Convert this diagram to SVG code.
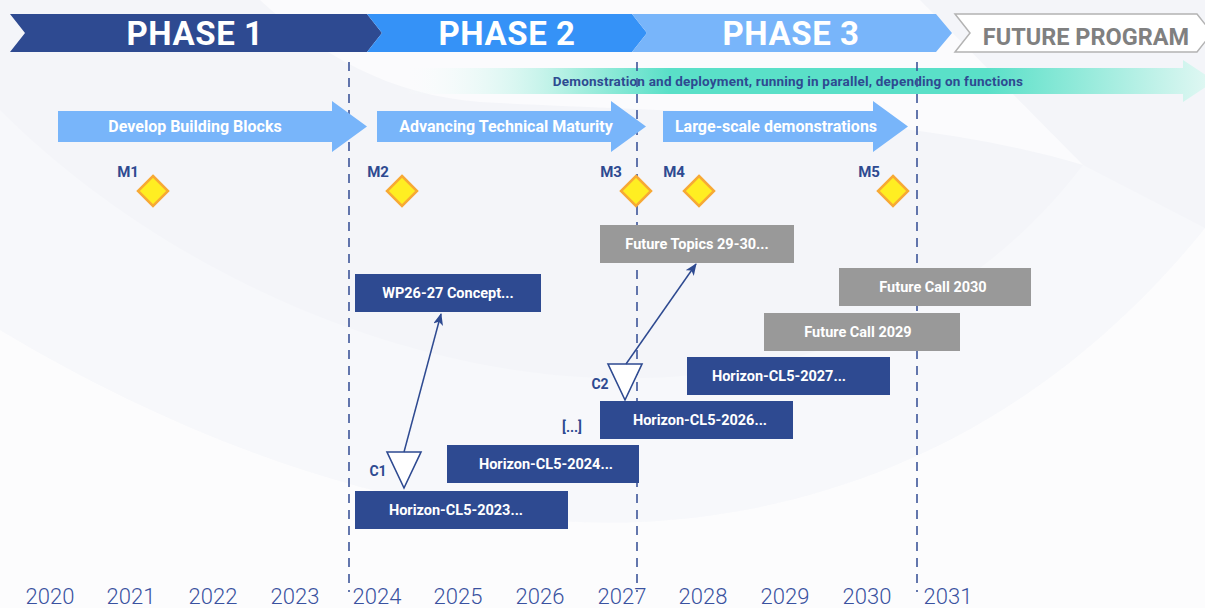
<svg xmlns="http://www.w3.org/2000/svg" width="1205" height="608" viewBox="0 0 1205 608">
<defs>
<style>
.t{font-family:Roboto,"Liberation Sans",Arial,sans-serif;font-weight:700;}
.phase{font-size:33px;fill:#fff;text-anchor:middle;letter-spacing:0.6px;}
.arrowlbl{font-size:16px;fill:#fff;text-anchor:middle;}
.ml{font-size:15px;fill:#2e4a91;text-anchor:middle;}
.box{fill:#2e4a91;}
.gbox{fill:#999999;}
.bl{font-size:14.5px;fill:#fff;text-anchor:middle;}
.yr{font-family:Roboto,"Liberation Sans",Arial,sans-serif;font-weight:300;font-size:22px;fill:#3a52a0;text-anchor:middle;}
.dash{stroke:#3d5599;stroke-width:1.6;stroke-dasharray:9 7;fill:none;}
.dia{fill:#ffee22;stroke:#f7a935;stroke-width:2.5;}
.tri{fill:#fff;stroke:#2e4a91;stroke-width:1.6;}
.conn{stroke:#2e4a91;stroke-width:1.5;fill:none;}
.ba{fill:#78b5fa;}
</style>
<linearGradient id="demoGrad" x1="400" y1="0" x2="1215" y2="0" gradientUnits="userSpaceOnUse">
<stop offset="0" stop-color="#ffffff" stop-opacity="0"/>
<stop offset="0.22" stop-color="#a6eedf"/>
<stop offset="0.33" stop-color="#5ae0c8"/>
<stop offset="0.72" stop-color="#5ae0c8"/>
<stop offset="1" stop-color="#e4f8f4"/>
</linearGradient>
<marker id="ah" viewBox="0 0 12 10" refX="11" refY="5" markerWidth="12" markerHeight="10" markerUnits="userSpaceOnUse" orient="auto">
<path d="M0,0 L12,5 L0,10 L3,5 Z" fill="#2e4a91"/>
</marker>
</defs>

<g id="background">
<rect x="0" y="0" width="1205" height="608" fill="#f4f5f9"/>
<path d="M260,0 L920,0 L1083,165 C 900,110 650,112 480,102 C 390,95 320,55 260,0 Z" fill="#fbfbfd"/>
<path d="M0,110 C 150,260 380,370 600,378 C 820,385 980,300 1083,165 L1205,228 C 1050,420 850,512 640,522 C 430,530 200,450 0,330 Z" fill="#f7f8fb"/>
<path d="M0,330 C 200,450 430,530 640,522 C 850,512 1050,420 1205,228 L1205,608 L0,608 Z" fill="#fcfcfd"/>
</g>

<g id="phase-banner">
<g id="phase1"><polygon points="10,14 367,14 382,33 367,52 10,52 25,33" fill="#2e4a91"/><text class="t phase" x="195" y="45">PHASE 1</text></g>
<g id="phase2"><polygon points="367,14 632,14 647,33 632,52 367,52 382,33" fill="#3592f7"/><text class="t phase" x="507" y="45">PHASE 2</text></g>
<g id="phase3"><polygon points="632,14 936,14 952,33 936,52 632,52 647,33" fill="#78b5fa"/><text class="t phase" x="791" y="45">PHASE 3</text></g>
<g id="future"><polygon points="955,14 1197,14 1212,33 1197,52 955,52 970,33" fill="#ffffff" stroke="#b3b3b3" stroke-width="1.5"/><text class="t" x="1086" y="45" font-size="23.5" fill="#808080" text-anchor="middle">FUTURE PROGRAM</text></g>
</g>

<g id="demo-band">
<polygon points="400,68 1183,68 1183,60 1215,81 1183,102 1183,94 400,94" fill="url(#demoGrad)"/>
<text class="t" x="788" y="86" font-size="13.5" letter-spacing="0.2" fill="#2e4a91" text-anchor="middle">Demonstration and deployment, running in parallel, depending on functions</text>
</g>

<g id="period-lines">
<line class="dash" x1="349" y1="62" x2="349" y2="592"/>
<line class="dash" x1="637" y1="62" x2="637" y2="592"/>
<line class="dash" x1="917" y1="62" x2="917" y2="592"/>
</g>

<g id="arrow-develop"><polygon class="ba" points="58,111 332,111 332,101 367,126.5 332,152 332,142 58,142"/><text class="t arrowlbl" x="195" y="132">Develop Building Blocks</text></g>
<g id="arrow-advancing"><polygon class="ba" points="377,111 611,111 611,101 646,126.5 611,152 611,142 377,142"/><text class="t arrowlbl" x="506" y="132">Advancing Technical Maturity</text></g>
<g id="arrow-large"><polygon class="ba" points="663,111 873,111 873,101 908,126.5 873,152 873,142 663,142"/><text class="t arrowlbl" x="776" y="132">Large-scale demonstrations</text></g>

<g id="m1"><text class="t ml" x="128" y="177">M1</text><polygon class="dia" points="153,176 168,191 153,206 138,191"/></g>
<g id="m2"><text class="t ml" x="378" y="177">M2</text><polygon class="dia" points="402,176 417,191 402,206 387,191"/></g>
<g id="m3"><text class="t ml" x="611" y="177">M3</text><polygon class="dia" points="636,176 651,191 636,206 621,191"/></g>
<g id="m4"><text class="t ml" x="674" y="177">M4</text><polygon class="dia" points="699,176 714,191 699,206 684,191"/></g>
<g id="m5"><text class="t ml" x="869" y="177">M5</text><polygon class="dia" points="893,176 908,191 893,206 878,191"/></g>

<g id="future-topics"><rect class="gbox" x="600" y="225" width="194" height="38"/><text class="t bl" x="697" y="249">Future Topics 29-30...</text></g>
<g id="future-call-2030"><rect class="gbox" x="839" y="268" width="192" height="38"/><text class="t bl" x="933" y="292">Future Call 2030</text></g>
<g id="wp26-27"><rect class="box" x="355" y="274" width="186" height="38"/><text class="t bl" x="448" y="298">WP26-27 Concept...</text></g>
<g id="future-call-2029"><rect class="gbox" x="764" y="313" width="196" height="38"/><text class="t bl" x="858" y="337">Future Call 2029</text></g>
<g id="cl5-2027"><rect class="box" x="687" y="357" width="203" height="38"/><text class="t bl" x="779" y="381">Horizon-CL5-2027...</text></g>
<g id="cl5-2026"><rect class="box" x="600" y="401" width="193" height="38"/><text class="t bl" x="700" y="425">Horizon-CL5-2026...</text></g>
<g id="cl5-2024"><rect class="box" x="447" y="445" width="192" height="38"/><text class="t bl" x="546" y="469">Horizon-CL5-2024...</text></g>
<g id="cl5-2023"><rect class="box" x="355" y="491" width="213" height="38"/><text class="t bl" x="456" y="515">Horizon-CL5-2023...</text></g>

<g id="c1"><polygon class="tri" points="387,452 421,452 404,488"/><text class="t" x="378" y="476" font-size="14" fill="#2e4a91" text-anchor="middle">C1</text></g>
<g id="c2"><polygon class="tri" points="608,364 642,364 625,400"/><text class="t" x="600" y="389" font-size="14" fill="#2e4a91" text-anchor="middle">C2</text></g>
<g id="ellipsis"><text class="t" x="572" y="432" font-size="14" fill="#2e4a91" text-anchor="middle">[...]</text></g>

<g id="connectors">
<line class="conn" x1="404" y1="452" x2="441" y2="314" marker-end="url(#ah)"/>
<line class="conn" x1="626" y1="364" x2="696" y2="264" marker-end="url(#ah)"/>
</g>

<g id="years">
<text class="yr" x="50" y="604">2020</text>
<text class="yr" x="131" y="604">2021</text>
<text class="yr" x="213" y="604">2022</text>
<text class="yr" x="295" y="604">2023</text>
<text class="yr" x="377" y="604">2024</text>
<text class="yr" x="458" y="604">2025</text>
<text class="yr" x="540" y="604">2026</text>
<text class="yr" x="622" y="604">2027</text>
<text class="yr" x="703" y="604">2028</text>
<text class="yr" x="785" y="604">2029</text>
<text class="yr" x="867" y="604">2030</text>
<text class="yr" x="948" y="604">2031</text>
</g>
</svg>
